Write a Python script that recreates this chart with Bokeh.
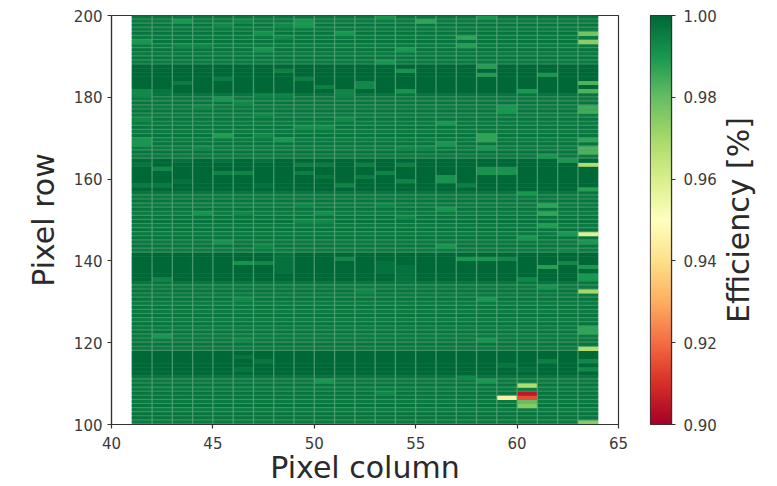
from bokeh.plotting import figure
from bokeh.layouts import row
from bokeh.models import LinearColorMapper, FixedTicker, NumeralTickFormatter, ColumnDataSource
from bokeh.core.properties import value
from bokeh.palettes import RdYlGn11
from bokeh.embed import file_html
from bokeh.resources import INLINE
import numpy as np
import math

first_column = 41
last_column = 64
first_row = 100
x_ticks = [40, 45, 50, 55, 60, 65]
y_ticks = [100, 120, 140, 160, 180, 200]
bar_ticks = [0.90, 0.92, 0.94, 0.96, 0.98, 1.00]
x_label = "Pixel column"
y_label = "Pixel row"
bar_label = "Efficiency [%]"

# efficiency of each pixel row, from row 100 upward
row_efficiency = [
    0.996, 0.997, 0.997, 0.996, 0.997, 0.996, 0.997, 0.997, 0.996, 0.997,  # 100
    0.996, 0.997, 1.0, 1.0, 1.0, 1.0, 1.0, 1.0, 0.996, 0.997,              # 110
    0.996, 0.996, 0.997, 0.996, 0.997, 0.996, 0.997, 0.996, 0.997, 0.996,  # 120
    0.997, 0.996, 0.997, 0.996, 0.997, 1.0, 1.0, 1.0, 1.0, 1.0,            # 130
    1.0, 1.0, 0.996, 0.997, 0.996, 0.997, 0.996, 0.997, 0.996, 0.997,      # 140
    0.997, 0.996, 0.997, 0.996, 0.997, 0.996, 0.997, 1.0, 1.0, 1.0,        # 150
    1.0, 1.0, 1.0, 1.0, 1.0, 0.996, 0.997, 0.996, 0.997, 0.996,            # 160
    0.997, 0.996, 0.997, 0.996, 0.997, 0.996, 0.997, 0.996, 0.997, 0.996,  # 170
    0.997, 1.0, 1.0, 1.0, 1.0, 1.0, 1.0, 1.0, 0.996, 0.997,                # 180
    0.996, 0.997, 0.996, 0.997, 0.996, 0.997, 0.996, 0.997, 0.996, 0.997,  # 190
]

# pixels that differ from their row: (column, row, efficiency)
pixel_efficiency = [
    (43, 198, 0.99), (45, 197, 0.993), (46, 198, 0.993), (48, 197, 0.993), (49, 197, 0.99), (49, 198, 0.99),
    (47, 195, 0.991), (48, 194, 0.993), (41, 193, 0.99), (51, 195, 0.99), (47, 191, 0.991),
    (43, 192, 0.993), (44, 192, 0.993), (41, 180, 0.993), (41, 181, 0.993), (42, 181, 0.997), (43, 183, 0.996),
    (45, 184, 0.996), (48, 186, 0.995), (49, 184, 0.995), (50, 182, 0.995), (51, 180, 0.994), (51, 181, 0.994),
    (52, 182, 0.993), (52, 183, 0.993), (47, 180, 0.994), (48, 180, 0.994), (45, 179, 0.99), (46, 178, 0.993),
    (44, 177, 0.993), (53, 199, 0.991), (55, 198, 0.987), (58, 199, 0.99), (57, 194, 0.987), (57, 192, 0.988),
    (63, 195, 0.978), (63, 193, 0.974), (54, 191, 0.99), (53, 188, 0.99), (54, 186, 0.991), (58, 187, 0.988),
    (58, 185, 0.989), (61, 185, 0.99), (54, 181, 0.991), (60, 181, 0.99), (63, 183, 0.983), (63, 181, 0.983),
    (59, 176, 0.99), (59, 177, 0.99), (63, 176, 0.985), (63, 177, 0.985),
    (47, 175, 0.993), (41, 174, 0.993), (51, 174, 0.993), (49, 172, 0.992), (50, 172, 0.992), (45, 170, 0.989),
    (48, 169, 0.99), (41, 168, 0.99), (41, 169, 0.99), (47, 170, 0.993), (44, 167, 0.993),
    (41, 164, 0.999), (41, 163, 0.997), (42, 162, 0.993), (43, 164, 0.998), (45, 161, 0.994), (46, 161, 0.994),
    (45, 164, 0.998), (41, 158, 0.996), (42, 158, 0.996), (43, 159, 0.998), (47, 164, 0.998), (47, 158, 0.998),
    (49, 163, 0.995), (49, 161, 0.995), (50, 163, 0.996), (50, 160, 0.997), (51, 158, 0.994), (52, 163, 0.995),
    (52, 160, 0.996), (49, 153, 0.993), (44, 151, 0.991), (46, 151, 0.993), (50, 151, 0.992),
    (56, 173, 0.99), (58, 169, 0.987), (58, 170, 0.987), (56, 168, 0.99), (58, 167, 0.99), (54, 167, 0.993),
    (55, 167, 0.993), (63, 169, 0.987), (63, 166, 0.983), (63, 167, 0.983), (61, 165, 0.99), (62, 164, 0.99),
    (63, 163, 0.968), (54, 163, 0.995), (53, 161, 0.994), (54, 159, 0.994), (56, 159, 0.991), (56, 160, 0.991),
    (58, 161, 0.991), (58, 162, 0.991), (59, 161, 0.991), (59, 162, 0.991), (57, 158, 0.995), (63, 157, 0.988),
    (60, 156, 0.99), (61, 153, 0.987), (61, 151, 0.987), (54, 150, 0.993), (56, 152, 0.991), (53, 153, 0.993),
    (49, 149, 0.993), (50, 149, 0.993), (47, 143, 0.993), (45, 144, 0.991), (46, 139, 0.991), (47, 139, 0.993),
    (51, 140, 0.993), (42, 135, 0.994), (48, 137, 0.998), (48, 138, 0.998), (48, 139, 0.998), (48, 140, 0.998),
    (48, 141, 0.998), (46, 130, 0.993), (52, 132, 0.993), (61, 148, 0.989), (63, 146, 0.958), (60, 145, 0.99),
    (62, 146, 0.99), (56, 143, 0.99), (63, 144, 0.99), (62, 142, 0.993), (57, 140, 0.99), (58, 140, 0.99),
    (59, 140, 0.993), (61, 138, 0.988), (62, 139, 0.993), (63, 138, 0.99), (63, 135, 0.99), (63, 136, 0.99),
    (54, 135, 0.998), (54, 136, 0.998), (54, 137, 0.998), (54, 138, 0.998), (60, 135, 0.993), (61, 133, 0.991),
    (63, 132, 0.97), (58, 130, 0.99), (53, 137, 0.998), (53, 138, 0.998), (53, 139, 0.998),
    (42, 121, 0.99), (46, 120, 0.993), (50, 110, 0.99), (46, 116, 0.997), (47, 115, 0.997), (46, 113, 0.997),
    (63, 122, 0.987), (63, 123, 0.987), (58, 120, 0.991), (63, 118, 0.968), (61, 115, 0.995), (59, 114, 0.997),
    (60, 113, 0.998), (63, 115, 0.993), (63, 113, 0.993), (58, 110, 0.99), (57, 111, 0.993), (60, 109, 0.968),
    (60, 107, 0.905), (60, 106, 0.915), (59, 106, 0.945), (60, 105, 0.98), (60, 104, 0.975), (53, 107, 0.993),
    (63, 100, 0.975),
]

columns = list(range(first_column, last_column))
matrix = {(c, r + first_row): v for r, v in enumerate(row_efficiency) for c in columns}
matrix.update({(c, r): v for c, r, v in pixel_efficiency})

anchors = np.array([[int(h[i:i + 2], 16) for i in (1, 3, 5)] for h in RdYlGn11[::-1]], dtype=float)
pos = np.linspace(0, 1, len(anchors))
ramp = np.linspace(0, 1, 256)
palette = ["#%02x%02x%02x" % tuple(int(round(np.interp(t, pos, anchors[:, k]))) for k in range(3)) for t in ramp]
mapper = LinearColorMapper(palette=palette, low=bar_ticks[0], high=bar_ticks[-1])


def colour(v):
    return palette[min(255, max(0, int((v - bar_ticks[0]) / (bar_ticks[-1] - bar_ticks[0]) * 256)))]


left, right, bottom, top, colours = [], [], [], [], []
for (c, r), v in matrix.items():
    full = row_efficiency[r - first_row] >= 0.9985 or v < 0.9945
    left.append(c)
    right.append(c + 1)
    bottom.append(r + (0 if full else 0.28))
    top.append(r + 1)
    colours.append(colour(v))

TEXT = "#3a3a3a"
AXIS = "#333333"


def style(fig):
    for ax in list(fig.xaxis) + list(fig.yaxis):
        ax.major_tick_in = 0
        ax.major_tick_out = 4
        ax.minor_tick_line_color = None
        ax.axis_line_color = AXIS
        ax.major_tick_line_color = AXIS
        ax.axis_line_width = 1.2
        ax.major_tick_line_width = 1.2
        ax.major_label_text_color = TEXT
        ax.major_label_text_font = "DejaVu Sans"
        ax.major_label_text_font_size = "15px"
        ax.axis_label_text_font = "DejaVu Sans"
        ax.axis_label_text_font_style = "normal"
        ax.axis_label_text_color = "#2a2a2a"
        ax.axis_label_text_font_size = "30px"
    fig.grid.visible = False
    fig.outline_line_color = AXIS
    fig.outline_line_width = 1.2
    fig.background_fill_color = "white"


p = figure(output_backend="svg", toolbar_location=None, x_range=(x_ticks[0], x_ticks[-1]),
           y_range=(y_ticks[0], y_ticks[-1]), frame_width=507, frame_height=409, min_border_left=111,
           min_border_right=22, min_border_top=15, min_border_bottom=62)
p.quad(left=[first_column], right=[last_column], bottom=[y_ticks[0]], top=[y_ticks[-1]],
       fill_color="#3f9066", line_color=None)
p.quad(left="left", right="right", bottom="bottom", top="top", fill_color="colours", line_color=None,
       source=ColumnDataSource(dict(left=left, right=right, bottom=bottom, top=top, colours=colours)))
p.segment(x0=columns[1:], x1=columns[1:], y0=[y_ticks[0]] * (len(columns) - 1), y1=[y_ticks[-1]] * (len(columns) - 1),
          line_color="#5aa57c", line_alpha=0.75, line_width=1.3)
p.xaxis.ticker = FixedTicker(ticks=x_ticks)
p.yaxis.ticker = FixedTicker(ticks=y_ticks)
p.xaxis.axis_label = x_label
p.yaxis.axis_label = y_label
style(p)
p.xaxis.major_label_standoff = 8
p.xaxis.axis_label_standoff = -2
p.yaxis.major_label_standoff = 5
p.yaxis.axis_label_standoff = 10

cb = figure(output_backend="svg", toolbar_location=None, x_range=(0, 1), y_range=(bar_ticks[0], bar_ticks[-1]),
            frame_width=21, frame_height=409, min_border_left=10, min_border_right=48, min_border_top=15,
            min_border_bottom=62, x_axis_location=None, y_axis_location="right")
cb.image(image=[np.linspace(bar_ticks[0], bar_ticks[-1], 256).reshape(256, 1)], x=0, y=bar_ticks[0], dw=1,
         dh=bar_ticks[-1] - bar_ticks[0], color_mapper=mapper)
cb.yaxis.ticker = FixedTicker(ticks=bar_ticks)
cb.yaxis.formatter = NumeralTickFormatter(format="0.00")
style(cb)
cb.yaxis.major_label_standoff = 8

label_panel = figure(output_backend="svg", toolbar_location=None, x_range=(0, 1), y_range=(0, 1), frame_width=46,
                     frame_height=409, min_border_left=0, min_border_right=0, min_border_top=15, min_border_bottom=62,
                     x_axis_location=None, y_axis_location=None)
label_panel.grid.visible = False
label_panel.outline_line_color = None
label_panel.text(x=[0.413], y=[0.5], text=[bar_label], angle=math.pi / 2, text_align="center", text_baseline="middle",
                 text_font=value("DejaVu Sans"), text_font_size="30px", text_color="#2a2a2a")

layout = row(p, cb, label_panel, spacing=0)
open("out.html", "w").write(file_html(layout, INLINE))
